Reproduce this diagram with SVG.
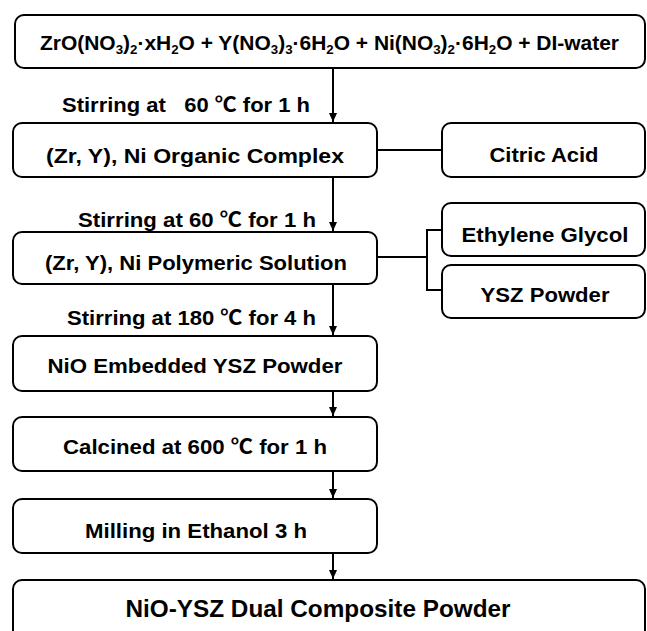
<svg xmlns="http://www.w3.org/2000/svg" width="647" height="631" viewBox="0 0 647 631">
<style>
.box{fill:#fff;stroke:#000;stroke-width:2}
.t{font-family:"Liberation Sans","Noto Sans CJK SC",Arial,sans-serif;font-weight:bold;font-size:20.5px;fill:#000}
.c{text-anchor:middle}
.e{text-anchor:end}
.ln{fill:none;stroke:#000;stroke-width:2}
.sub{font-size:13px}
</style>
<defs>
<marker id="ah" markerWidth="10" markerHeight="10" refX="9" refY="4" orient="auto" markerUnits="userSpaceOnUse">
<path d="M0,0 L9,4 L0,8 Z" fill="#000"/>
</marker>
</defs>
<rect width="647" height="631" fill="#fff"/>
<g id="connectors">
<line class="ln" x1="333" y1="68" x2="333" y2="122" marker-end="url(#ah)"/>
<line class="ln" x1="333" y1="177" x2="333" y2="231" marker-end="url(#ah)"/>
<line class="ln" x1="333" y1="284" x2="333" y2="335" marker-end="url(#ah)"/>
<line class="ln" x1="333" y1="391" x2="333" y2="416" marker-end="url(#ah)"/>
<line class="ln" x1="333" y1="471" x2="333" y2="498" marker-end="url(#ah)"/>
<line class="ln" x1="333" y1="553" x2="333" y2="579" marker-end="url(#ah)"/>
<line class="ln" x1="377" y1="150" x2="442" y2="150"/>
<polyline class="ln" points="377,257 427,257"/>
<polyline class="ln" points="442,230 427,230 427,290 442,290"/>
<text class="t e" x="310" y="112" textLength="248" lengthAdjust="spacingAndGlyphs">Stirring at &#160;&#160;60 ℃ for 1 h</text>
<text class="t e" x="316" y="227" textLength="238" lengthAdjust="spacingAndGlyphs">Stirring at 60 ℃ for 1 h</text>
<text class="t e" x="316" y="325" textLength="249" lengthAdjust="spacingAndGlyphs">Stirring at 180 ℃ for 4 h</text>
</g>
<g id="n-precursors">
<rect class="box" x="15" y="15" width="630" height="53" rx="9"/>
<text class="t" x="40" y="50" textLength="579" lengthAdjust="spacingAndGlyphs">ZrO(NO<tspan class="sub" dy="4">3</tspan><tspan dy="-4">)</tspan><tspan class="sub" dy="4">2</tspan><tspan dy="-4">·xH</tspan><tspan class="sub" dy="4">2</tspan><tspan dy="-4">O + Y(NO</tspan><tspan class="sub" dy="4">3</tspan><tspan dy="-4">)</tspan><tspan class="sub" dy="4">3</tspan><tspan dy="-4">·6H</tspan><tspan class="sub" dy="4">2</tspan><tspan dy="-4">O + Ni(NO</tspan><tspan class="sub" dy="4">3</tspan><tspan dy="-4">)</tspan><tspan class="sub" dy="4">2</tspan><tspan dy="-4">·6H</tspan><tspan class="sub" dy="4">2</tspan><tspan dy="-4">O + DI-water</tspan></text>
</g>
<g id="n-organic">
<rect class="box" x="13" y="123" width="364" height="54" rx="9"/>
<text class="t c" x="195" y="163" textLength="298" lengthAdjust="spacingAndGlyphs">(Zr, Y), Ni Organic Complex</text>
</g>
<g id="n-citric">
<rect class="box" x="442" y="123" width="203" height="54" rx="9"/>
<text class="t c" x="544" y="162" textLength="109" lengthAdjust="spacingAndGlyphs">Citric Acid</text>
</g>
<g id="n-polymeric">
<rect class="box" x="13" y="232" width="364" height="52" rx="9"/>
<text class="t c" x="196" y="270" textLength="302" lengthAdjust="spacingAndGlyphs">(Zr, Y), Ni Polymeric Solution</text>
</g>
<g id="n-glycol">
<rect class="box" x="442" y="203" width="203" height="53" rx="9"/>
<text class="t c" x="545" y="242" textLength="167" lengthAdjust="spacingAndGlyphs">Ethylene Glycol</text>
</g>
<g id="n-ysz">
<rect class="box" x="442" y="265" width="203" height="53" rx="9"/>
<text class="t c" x="545" y="302" textLength="129" lengthAdjust="spacingAndGlyphs">YSZ Powder</text>
</g>
<g id="n-embedded">
<rect class="box" x="13" y="336" width="364" height="55" rx="9"/>
<text class="t c" x="195" y="373" textLength="295" lengthAdjust="spacingAndGlyphs">NiO Embedded YSZ Powder</text>
</g>
<g id="n-calcined">
<rect class="box" x="13" y="417" width="364" height="54" rx="9"/>
<text class="t c" x="195" y="454" textLength="264" lengthAdjust="spacingAndGlyphs">Calcined at 600 ℃ for 1 h</text>
</g>
<g id="n-milling">
<rect class="box" x="13" y="499" width="364" height="54" rx="9"/>
<text class="t c" x="196" y="538" textLength="222" lengthAdjust="spacingAndGlyphs">Milling in Ethanol 3 h</text>
</g>
<g id="n-final">
<rect class="box" x="13" y="580" width="632" height="70" rx="9"/>
<text class="t c" x="318" y="617" style="font-size:24px" textLength="385" lengthAdjust="spacingAndGlyphs">NiO-YSZ Dual Composite Powder</text>
</g>
</svg>
